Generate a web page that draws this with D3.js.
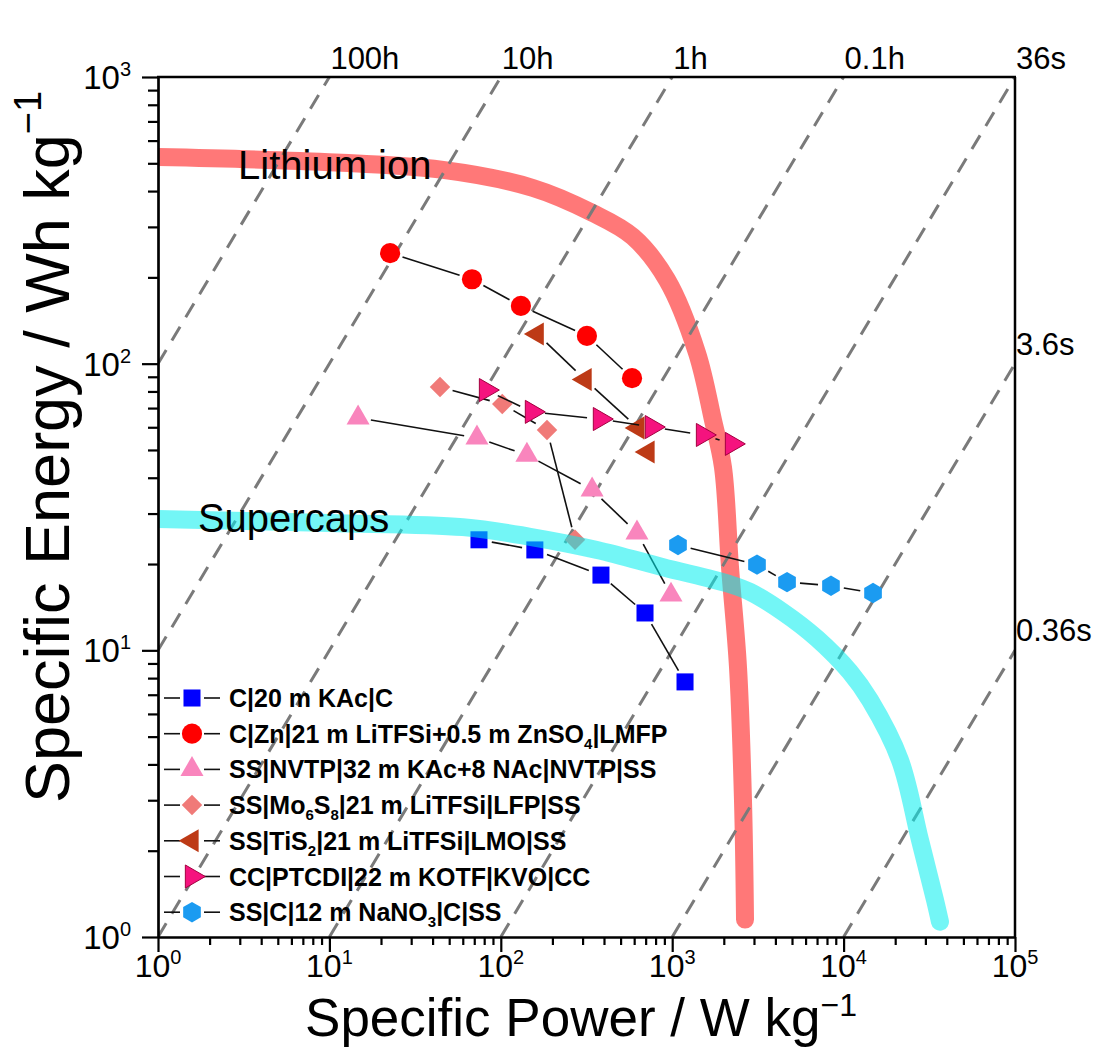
<!DOCTYPE html>
<html>
<head>
<meta charset="utf-8">
<script src="https://cdn.jsdelivr.net/npm/d3@7"></script>
<style>
body { margin: 0; background: #fff; }
text { font-family: "Liberation Sans", Arial, sans-serif; fill: #000; }
</style>
</head>
<body>
<svg id="chart" width="1099" height="1050"></svg>
<script>
// reference curves (power W/kg, energy Wh/kg)
var liPower  = [1, 6.7, 46, 154, 341, 590, 933, 1396, 1729, 1977, 2174, 2420, 2588, 2660];
var liEnergy = [526, 509, 474, 410, 336, 277, 196, 109, 63.6, 43.6, 19.5, 8.75, 3.0, 1.15];
var scPower  = [1, 10, 60, 148, 364, 884, 2174, 2844, 4430, 7000, 10900, 14260, 21300, 27900, 34100, 36500];
var scEnergy = [28.7, 27.8, 26.9, 24.9, 22.4, 19.5, 17.0, 16.0, 13.6, 11.0, 8.4, 6.7, 4.15, 2.18, 1.35, 1.13];
var bandLabels = ["Lithium ion", "Supercaps"];
var bandLabelPower = [2.93, 1.71];
var bandLabelEnergy = [441, 25.9];

// cells
var seriesNames = [
  "C|20 m KAc|C",
  "C|Zn|21 m LiTFSi+0.5 m ZnSO_4|LMFP",
  "SS|NVTP|32 m KAc+8 NAc|NVTP|SS",
  "SS|Mo_6S_8|21 m LiTFSi|LFP|SS",
  "SS|TiS_2|21 m LiTFSi|LMO|SS",
  "CC|PTCDI|22 m KOTF|KVO|CC",
  "SS|C|12 m NaNO_3|C|SS"
];
var kacPower = [74.6, 158, 384, 694, 1188];
var kacEnergy = [24.3, 22.4, 18.3, 13.5, 7.76];
var lmfpPower = [22.6, 67.9, 131, 318, 583];
var lmfpEnergy = [243, 197, 159, 125, 89];
var nvtpPower = [14.7, 72.6, 142, 341, 623, 984];
var nvtpEnergy = [64.7, 55.1, 48.0, 36.3, 25.7, 15.6];
var lfpPower = [44.2, 102, 186, 271];
var lfpEnergy = [82.9, 72.3, 58.7, 24.3];
var lmoPower = [163, 310, 631, 722];
var lmoEnergy = [127, 88, 59.7, 49.2];
var kvoPower = [82, 152, 379, 762, 1513, 2233];
var kvoEnergy = [80.9, 67.9, 64.1, 60.1, 56.4, 52.5];
var nanoPower = [1081, 3124, 4677, 8440, 14850];
var nanoEnergy = [23.3, 19.9, 17.3, 16.8, 15.85];

var seriesPower = [kacPower, lmfpPower, nvtpPower, lfpPower, lmoPower, kvoPower, nanoPower];
var seriesEnergy = [kacEnergy, lmfpEnergy, nvtpEnergy, lfpEnergy, lmoEnergy, kvoEnergy, nanoEnergy];

// constant discharge time lines (hours) and their labels
var durations = [100, 10, 1, 0.1, 0.01, 0.001, 0.0001];
var durationLabels = ["100h", "10h", "1h", "0.1h", "36s", "3.6s", "0.36s"];

var xTickExp = [0, 1, 2, 3, 4, 5];
var yTickExp = [0, 1, 2, 3];

var symbolHexagon = {
  draw: function(ctx, size) {
    var r = Math.sqrt(size * 2 / (3 * Math.sqrt(3)));
    for (var i = 0; i < 6; i++) {
      var a = Math.PI / 3 * i - Math.PI / 2;
      if (i == 0) ctx.moveTo(r * Math.cos(a), r * Math.sin(a));
      else ctx.lineTo(r * Math.cos(a), r * Math.sin(a));
    }
    ctx.closePath();
  }
};

var markers = [
  {type: d3.symbolSquare, size: 290, rot: 0, fill: "#0000ff"},
  {type: d3.symbolCircle, size: 320, rot: 0, fill: "#ff0000"},
  {type: d3.symbolTriangle, size: 230, rot: 0, fill: "#f985bd"},
  {type: d3.symbolSquare, size: 210, rot: 45, fill: "#f07a78"},
  {type: d3.symbolTriangle, size: 230, rot: -90, fill: "#bd3a16"},
  {type: d3.symbolTriangle, size: 230, rot: 90, fill: "#f5137e", stroke: "#a3003f"},
  {type: symbolHexagon, size: 270, rot: 0, fill: "#1b9bf1"}
];

var svg = d3.select("#chart");
var x0 = 158, x1 = 1015, y0 = 77, y1 = 937;
var x = d3.scaleLog().domain([1, 1e5]).range([x0, x1]);
var y = d3.scaleLog().domain([1, 1e3]).range([y1, y0]);

svg.append("clipPath").attr("id", "clip")
  .append("rect").attr("x", x0).attr("y", y0).attr("width", x1 - x0).attr("height", y1 - y0);

var plot = svg.append("g").attr("clip-path", "url(#clip)");

var bandLine = d3.line().x(d => x(d[0])).y(d => y(d[1])).curve(d3.curveCatmullRom.alpha(0.5));

function drawBand(pw, en, color, op) {
  plot.append("path")
    .datum(pw.map((p, i) => [p, en[i]]))
    .attr("d", bandLine)
    .attr("fill", "none")
    .attr("stroke", color)
    .attr("stroke-opacity", op)
    .attr("stroke-width", 18)
    .attr("stroke-linecap", "round");
}

// lithium band
drawBand(liPower, liEnergy, "#ff0000", 0.53);

// dashed iso-time lines
durations.forEach(function(t) {
  var pa = Math.max(1, 1 / t), pb = Math.min(1e5, 1000 / t);
  plot.append("line")
    .attr("x1", x(pa)).attr("y1", y(pa * t))
    .attr("x2", x(pb)).attr("y2", y(pb * t))
    .attr("stroke", "#7a7a7a")
    .attr("stroke-width", 3)
    .attr("stroke-dasharray", "16,11");
});

function drawSeries(i) {
  var pts = seriesPower[i].map((p, k) => [x(p), y(seriesEnergy[i][k])]);
  var gap = 13;
  var g = plot.append("g");
  for (var k = 0; k < pts.length - 1; k++) {
    var dx = pts[k + 1][0] - pts[k][0], dy = pts[k + 1][1] - pts[k][1];
    var len = Math.sqrt(dx * dx + dy * dy);
    if (len <= 2 * gap) continue;
    var ux = dx / len, uy = dy / len;
    g.append("line")
      .attr("x1", pts[k][0] + ux * gap).attr("y1", pts[k][1] + uy * gap)
      .attr("x2", pts[k + 1][0] - ux * gap).attr("y2", pts[k + 1][1] - uy * gap)
      .attr("stroke", "#111").attr("stroke-width", 1.6);
  }
  var m = markers[i];
  g.selectAll("path.mk").data(pts).enter().append("path")
    .attr("class", "mk")
    .attr("d", d3.symbol().type(m.type).size(m.size))
    .attr("transform", d => "translate(" + d[0] + "," + d[1] + ") rotate(" + m.rot + ")")
    .attr("fill", m.fill)
    .attr("stroke", m.stroke || "none")
    .attr("stroke-width", 1);
}

[0, 1, 2, 3].forEach(drawSeries);

// supercaps band
drawBand(scPower, scEnergy, "#00eeee", 0.55);

[4, 5, 6].forEach(drawSeries);

// band labels
bandLabels.forEach(function(t, i) {
  svg.append("text")
    .attr("x", x(bandLabelPower[i]))
    .attr("y", y(bandLabelEnergy[i]))
    .attr("font-size", 40)
    .text(t);
});

// axes
var xMinor = [], yMinor = [];
xTickExp.slice(0, -1).forEach(e => { for (var k = 2; k < 10; k++) xMinor.push(k * Math.pow(10, e)); });
yTickExp.slice(0, -1).forEach(e => { for (var k = 2; k < 10; k++) yMinor.push(k * Math.pow(10, e)); });

svg.append("g").attr("transform", "translate(0," + y1 + ")")
  .call(d3.axisBottom(x).tickValues(xMinor).tickSize(8).tickSizeOuter(0).tickFormat(""));
svg.append("g").attr("transform", "translate(0," + y1 + ")")
  .call(d3.axisBottom(x).tickValues(xTickExp.map(e => Math.pow(10, e))).tickSize(15).tickSizeOuter(0).tickFormat(""));
svg.append("g").attr("transform", "translate(" + x0 + ",0)")
  .call(d3.axisLeft(y).tickValues(yMinor).tickSize(10).tickSizeOuter(0).tickFormat(""));
svg.append("g").attr("transform", "translate(" + x0 + ",0)")
  .call(d3.axisLeft(y).tickValues(yTickExp.map(e => Math.pow(10, e))).tickSize(16).tickSizeOuter(0).tickFormat(""));

svg.selectAll(".domain, .tick line").attr("stroke", "#000").attr("stroke-width", 2.2);

svg.append("line").attr("x1", x0 - 1).attr("x2", x1 + 1).attr("y1", y0).attr("y2", y0)
  .attr("stroke", "#000").attr("stroke-width", 2.5);
svg.append("line").attr("x1", x1).attr("x2", x1).attr("y1", y0).attr("y2", y1)
  .attr("stroke", "#000").attr("stroke-width", 2.5);

// tick labels
xTickExp.forEach(function(e) {
  var t = svg.append("text")
    .attr("x", x(Math.pow(10, e)))
    .attr("y", 977)
    .attr("text-anchor", "middle")
    .attr("font-size", 32);
  t.append("tspan").text("10");
  t.append("tspan").attr("font-size", 20).attr("dy", -13).text(e);
});
yTickExp.forEach(function(e) {
  var t = svg.append("text")
    .attr("x", 131)
    .attr("y", y(Math.pow(10, e)) + 12)
    .attr("text-anchor", "end")
    .attr("font-size", 33);
  t.append("tspan").text("10");
  t.append("tspan").attr("font-size", 20).attr("dy", -13).text(e);
});

// duration labels
durations.forEach(function(t, i) {
  var pTop = 1000 / t;
  if (pTop <= 1e5 * 1.001) {
    svg.append("text").attr("x", x(pTop) + 1).attr("y", 69)
      .attr("font-size", 31).text(durationLabels[i]);
  } else {
    svg.append("text").attr("x", x1 + 1).attr("y", y(1e5 * t) - 9)
      .attr("font-size", 31).text(durationLabels[i]);
  }
});

// axis titles
var xt = svg.append("text")
  .attr("text-anchor", "middle")
  .attr("font-size", 53)
  .attr("x", 581)
  .attr("y", 1036);
xt.append("tspan").text("Specific Power / W kg");
xt.append("tspan").attr("font-size", 32).attr("dy", -20).text("\u22121");

var yt = svg.append("text")
  .attr("text-anchor", "middle")
  .attr("font-size", 63)
  .attr("transform", "translate(69,447) rotate(-90)");
yt.append("tspan").text("Specific Energy / Wh kg");
yt.append("tspan").attr("font-size", 38).attr("dy", -28).text("\u22121");

// legend
var legend = svg.append("g");
seriesNames.forEach(function(name, i) {
  var ry = 698 + i * 35.7;
  var row = legend.append("g").attr("transform", "translate(0," + ry + ")");
  row.append("line").attr("x1", 164).attr("x2", 180).attr("y1", 0).attr("y2", 0).attr("stroke", "#111").attr("stroke-width", 1.6);
  row.append("line").attr("x1", 204).attr("x2", 220).attr("y1", 0).attr("y2", 0).attr("stroke", "#111").attr("stroke-width", 1.6);
  var m = markers[i];
  row.append("path")
    .attr("d", d3.symbol().type(m.type).size(m.size))
    .attr("transform", "translate(192,0) rotate(" + m.rot + ")")
    .attr("fill", m.fill)
    .attr("stroke", m.stroke || "none");
  var t = row.append("text").attr("x", 229).attr("y", 9)
    .attr("font-size", 25).attr("font-weight", "bold");
  var parts = name.split("_");
  t.append("tspan").text(parts[0]);
  parts.slice(1).forEach(function(p) {
    t.append("tspan").attr("font-size", 15).attr("dy", 6).text(p[0]);
    t.append("tspan").attr("dy", -6).text(p.slice(1));
  });
});
</script>
</body>
</html>
